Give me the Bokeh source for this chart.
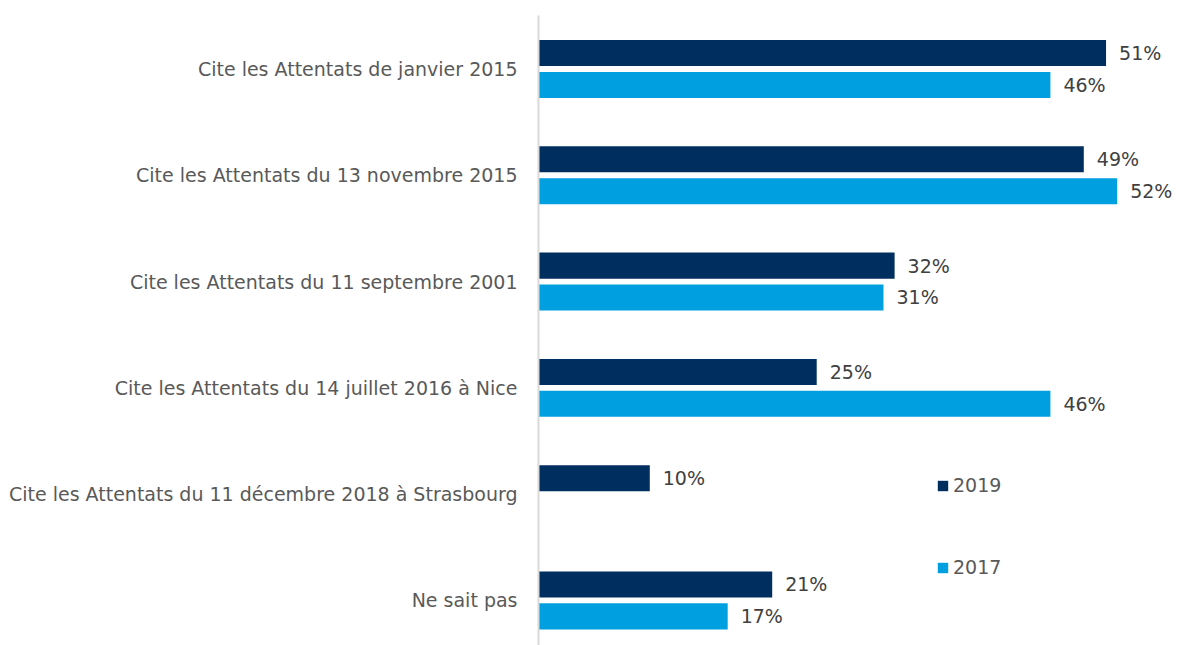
import math
from bokeh.plotting import figure
from bokeh.models import ColumnDataSource, Range1d, FixedTicker, Legend, LegendItem
from bokeh.core.properties import value
from bokeh.embed import file_html
from bokeh.resources import INLINE

categories = [
    "Cite les Attentats de janvier 2015",
    "Cite les Attentats du 13 novembre 2015",
    "Cite les Attentats du 11 septembre 2001",
    "Cite les Attentats du 14 juillet 2016 à Nice",
    "Cite les Attentats du 11 décembre 2018 à Strasbourg",
    "Ne sait pas",
]
series_names = ["2019", "2017"]
values_2019 = [51, 49, 32, 25, 10, 21]
values_2017 = [46, 52, 31, 46, None, 17]

C2019 = "#002F5F"
C2017 = "#009FE0"
FONT = "DejaVu Sans"
FSIZE = "19px"

idx = list(range(len(categories)))
off = 0.15
bh = 0.245

def make_src(vals, sign):
    ys, xs, labels = [], [], []
    for i, v in zip(idx, vals):
        if v is None:
            continue
        ys.append(i + sign * off)
        xs.append(v)
        labels.append(f"{v}%")
    return ColumnDataSource(dict(y=ys, x=xs, label=labels))

s19 = make_src(values_2019, -1)
s17 = make_src(values_2017, +1)

p = figure(width=1179, height=645, output_backend="svg", toolbar_location=None,
           x_range=Range1d(0, 57.6), y_range=Range1d(5.424, -0.503),
           min_border_left=538, min_border_right=0, min_border_top=15, min_border_bottom=0)
p.outline_line_color = None
p.grid.visible = False
p.xaxis.visible = False
p.background_fill_color = "white"
p.border_fill_color = "white"

r19 = p.hbar(y="y", right="x", left=0, height=bh, source=s19, fill_color=C2019, line_color=None)
r17 = p.hbar(y="y", right="x", left=0, height=bh, source=s17, fill_color=C2017, line_color=None)

for s in (s19, s17):
    p.text(x="x", y="y", text="label", source=s, x_offset=13, text_baseline="middle",
           text_align="left", text_font=value(FONT), text_font_size=FSIZE, text_color="#404040")

yax = p.yaxis[0]
yax.ticker = FixedTicker(ticks=idx)
yax.major_label_overrides = {i: c for i, c in zip(idx, categories)}
yax.major_tick_line_color = None
yax.minor_tick_line_color = None
yax.major_tick_out = 0
yax.major_tick_in = 0
yax.major_label_standoff = 21
yax.axis_line_color = "#D9D9D9"
yax.axis_line_width = 2
yax.major_label_text_font = FONT
yax.major_label_text_font_size = FSIZE
yax.major_label_text_color = "#595959"

legend = Legend(items=[LegendItem(label=series_names[0], renderers=[r19]),
                       LegendItem(label=series_names[1], renderers=[r17])],
                location=(398, 67), orientation="vertical")
legend.glyph_width = 13
legend.glyph_height = 13
legend.label_standoff = 4
legend.label_height = 20
legend.spacing = 60
legend.padding = 0
legend.margin = 0
legend.border_line_color = None
legend.background_fill_alpha = 0
legend.label_text_font = FONT
legend.label_text_font_size = FSIZE
legend.label_text_color = "#595959"
p.add_layout(legend, "center")

open("out.html", "w").write(file_html(p, INLINE))
